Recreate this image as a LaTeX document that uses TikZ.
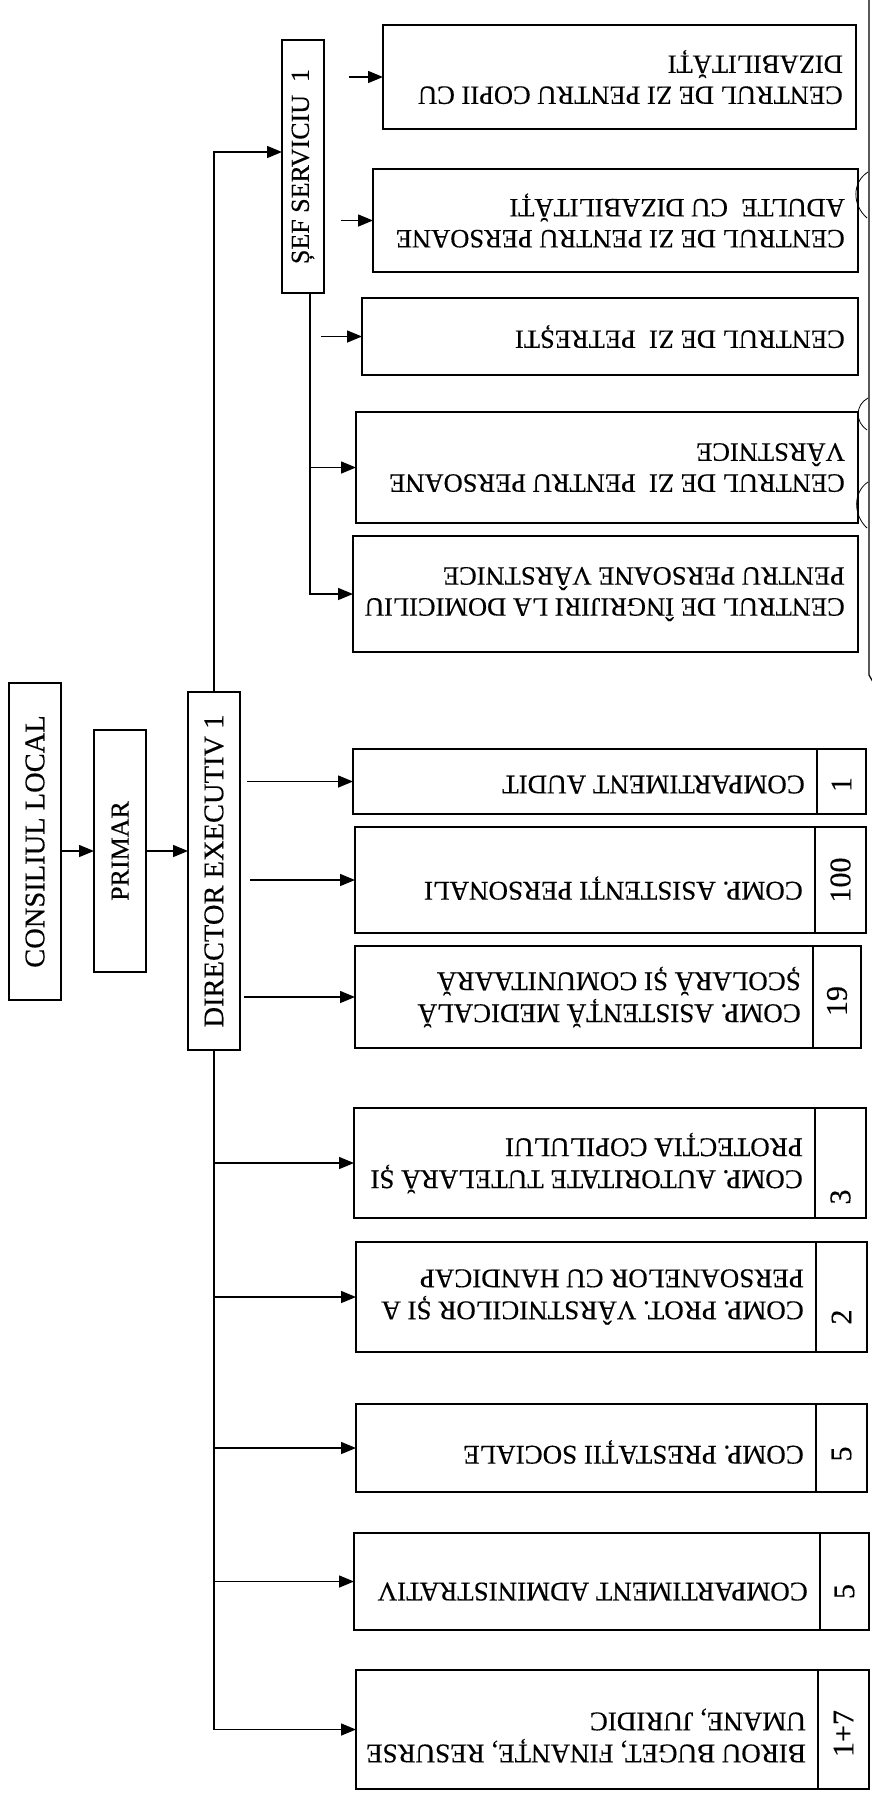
\documentclass[tikz,border=0pt]{standalone}
\usepackage{fontspec}
\setmainfont{Liberation Serif}[FakeBold=0.35]
\usepackage{graphicx}
\usetikzlibrary{arrows.meta}
\newcommand\mkbox[6]{\node[box, minimum width={#4-#2}, minimum height={#5-#3}] (#1) at ({(#2+#4)/2},{(#3+#5)/2}) {#6};}
\newcommand\lft[2]{\rotatebox{90}{\fontsize{#1}{#1}\selectfont #2}}
\begin{document}
\begin{tikzpicture}[x=1pt,y=-1pt,
  box/.style={draw, line width=1.8pt, inner sep=0pt, outer sep=0pt},
  arr/.style={line width=1.5pt, -{Triangle[length=15pt,width=12pt]}},
  rtxt/.style={rotate=180, anchor=west, align=left, font=\fontsize{26.5}{31}\selectfont, inner sep=0pt},
  rtxtb/.style={rtxt, font=\fontsize{27}{32}\selectfont},
  num/.style={rotate=90, font=\fontsize{30}{32}\selectfont, inner sep=0pt}]
\useasboundingbox (0,0) rectangle (871,1794);
\fill[white] (0,0) rectangle (871,1794);

% left column
\mkbox{cons}{9}{683}{61}{1000}{\lft{28.5}{CONSILIUL LOCAL}}
\mkbox{primar}{94}{730}{146}{972}{\lft{26}{PRIMAR}}
\mkbox{dir}{188}{692}{240}{1050}{\lft{28.5}{DIRECTOR EXECUTIV 1}}
\mkbox{sef}{282}{40}{324}{293}{\lft{26}{ȘEF SERVICIU\ \ 1}}

% upper right boxes
\mkbox{copii}{383}{25}{856}{129}{}
\mkbox{adulte}{373}{169}{858}{272}{}
\mkbox{petr}{362}{298}{858}{375}{}
\mkbox{varst}{356}{412}{858}{523}{}
\mkbox{ingr}{353}{536}{858}{652}{}

% lower right boxes with number cells
\mkbox{audit}{353}{749}{817}{814}{}
\mkbox{naudit}{817}{749}{866}{814}{}
\mkbox{pers}{355}{827}{815}{933}{}
\mkbox{npers}{815}{827}{866}{933}{}
\mkbox{med}{355}{946}{813}{1048}{}
\mkbox{nmed}{813}{946}{861}{1048}{}
\mkbox{autor}{354}{1108}{815}{1218}{}
\mkbox{nautor}{815}{1108}{866}{1218}{}
\mkbox{prot}{356}{1242}{816}{1352}{}
\mkbox{nprot}{816}{1242}{867}{1352}{}
\mkbox{prest}{356}{1404}{816}{1492}{}
\mkbox{nprest}{816}{1404}{867}{1492}{}
\mkbox{admin}{354}{1533}{820}{1630}{}
\mkbox{nadmin}{820}{1533}{869}{1630}{}
\mkbox{birou}{356}{1670}{818}{1789}{}
\mkbox{nbirou}{818}{1670}{869}{1789}{}

% texts (upside down)
\node[rtxt] at ([xshift=-13pt]copii.east) {CENTRUL DE ZI PENTRU COPII CU\\DIZABILITĂȚI};
\node[rtxt] at ([xshift=-13pt]adulte.east) {CENTRUL DE ZI PENTRU PERSOANE\\ADULTE\ \ CU DIZABILITĂȚI};
\node[rtxt] at ([xshift=-13pt]petr.east) {CENTRUL DE ZI\ \ PETREȘTI};
\node[rtxt] at ([xshift=-13pt]varst.east) {CENTRUL DE ZI\ \ PENTRU PERSOANE\\VÂRSTNICE};
\node[rtxt] at ([xshift=-13pt]ingr.east) {CENTRUL DE ÎNGRIJIRI LA DOMICILIU\\PENTRU PERSOANE VÂRSTNICE};
\node[rtxtb] at ([xshift=-12pt,yshift=-3pt]audit.east) {COMPARTIMENT AUDIT};
\node[rtxtb] at ([xshift=-12pt,yshift=-8pt]pers.east) {COMP. ASISTENȚI PERSONALI};
\node[rtxtb] at ([xshift=-12pt]med.east) {COMP. ASISTENȚĂ MEDICALĂ\\ȘCOLARĂ ȘI COMUNITAARĂ};
\node[rtxtb] at ([xshift=-12pt]autor.east) {COMP. AUTORITATE TUTELARĂ ȘI\\PROTECȚIA COPILULUI};
\node[rtxtb] at ([xshift=-12pt]prot.east) {COMP. PROT. VÂRSTNICILOR ȘI A\\PERSOANELOR CU HANDICAP};
\node[rtxtb] at ([xshift=-12pt,yshift=-4pt]prest.east) {COMP. PRESTAȚII SOCIALE};
\node[rtxtb] at ([xshift=-12pt,yshift=-10pt]admin.east) {COMPARTIMENT ADMINISTRATIV};
\node[rtxtb] at ([xshift=-12pt,yshift=-6pt]birou.east) {BIROU BUGET, FINANȚE, RESURSE\\UMANE, JURIDIC};

% numbers
\node[num] at ([yshift=-3pt]naudit.center) {1};
\node[num] at ([yshift=0pt]npers.center) {100};
\node[num] at ([yshift=-4pt]nmed.center) {19};
\node[num] at ([yshift=-34pt]nautor.center) {3};
\node[num] at ([yshift=-20pt]nprot.center) {2};
\node[num] at ([yshift=-6pt]nprest.center) {5};
\node[num] at ([yshift=-10pt]nadmin.center) {5};
\node[num] at ([yshift=-4pt]nbirou.center) {1+7};

% connectors
\draw[arr] (cons.east |- primar.center) -- (primar.west);
\draw[arr] (primar.east) -- (dir.west |- primar.east);
\draw[arr] (dir.north) |- ([yshift=14.5pt]sef.west);
\draw[arr] ([xshift=7pt]dir.east |- audit.west) -- (audit.west);
\draw[arr] ([xshift=10pt]dir.east |- pers.west) -- (pers.west);
\draw[arr] ([xshift=4pt]dir.east |- med.west) -- (med.west);
\draw[arr] (dir.south) |- (birou.west);
\draw[arr] (dir.south |- autor.west) -- (autor.west);
\draw[arr] (dir.south |- prot.west) -- (prot.west);
\draw[arr] (dir.south |- prest.west) -- (prest.west);
\draw[arr] (dir.south |- admin.west) -- (admin.west);

\draw[arr] ([xshift=7pt]sef.south) |- (ingr.west);
\draw[arr] ([xshift=7pt]sef.south |- varst.west) -- (varst.west);
\draw[arr] ([xshift=25pt]sef.east |- copii.west) -- (copii.west);
\draw[arr] ([xshift=17pt]sef.east |- adulte.west) -- (adulte.west);
\draw[arr] ([xshift=-3pt]sef.east |- petr.west) -- (petr.west);

% page edge line at right (scan artefact)
\draw[line width=1.2pt] (869,0) -- (869,675) -- (873,682);
\draw[line width=0.8pt] (868,172) .. controls (852,182) and (852,205) .. (867,218);
\draw[line width=0.8pt] (868,398) .. controls (855,405) and (855,422) .. (867,430);
\draw[line width=0.8pt] (868,482) .. controls (853,492) and (853,515) .. (867,528);
\end{tikzpicture}
\end{document}
